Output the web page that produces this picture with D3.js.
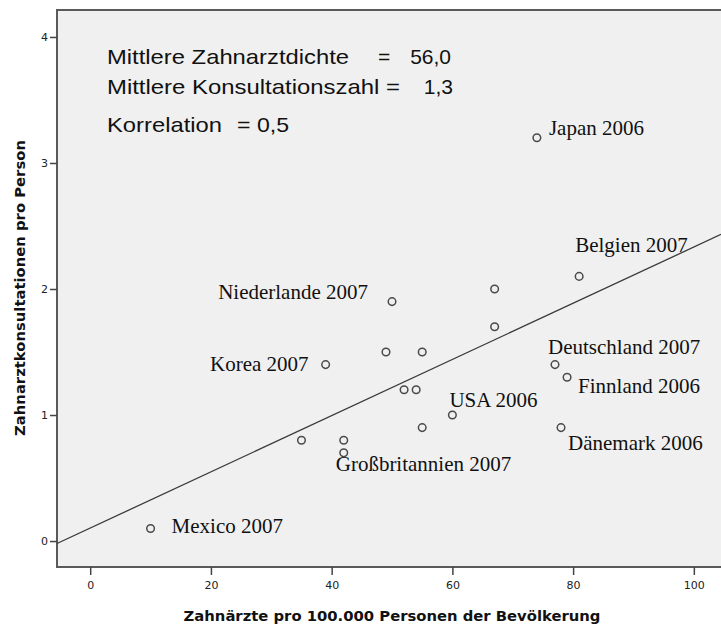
<!DOCTYPE html>
<html>
<head>
<meta charset="utf-8">
<script src="https://cdn.jsdelivr.net/npm/d3@7"></script>
<style>
  body { margin: 0; background: #fff; }
  svg { display: block; overflow: hidden; }
  .tick text { font-family: "DejaVu Sans", sans-serif; font-size: 11px; fill: #222; }
  .tick line { stroke: #444; stroke-width: 1.5; }
  .axis-title { font-family: "DejaVu Sans", sans-serif; font-weight: bold; font-size: 14.8px; fill: #111; }
  .note { font-family: "Liberation Sans", Arial, sans-serif; font-size: 21px; fill: #111; }
  .country { font-family: "Liberation Serif", "Times New Roman", serif; font-size: 21px; fill: #111; }
</style>
</head>
<body>
<svg id="chart" width="721" height="628"></svg>
<script>
// Zahnärzte pro 100.000 vs. Zahnarztkonsultationen pro Person
const dentists      = [74, 81, 67, 50, 67, 49, 55, 52, 54, 60, 55, 77, 79, 78, 39, 35, 42, 42, 10];
const consultations = [3.2, 2.1, 2.0, 1.9, 1.7, 1.5, 1.5, 1.2, 1.2, 1.0, 0.9, 1.4, 1.3, 0.9, 1.4, 0.8, 0.8, 0.7, 0.1];
const countries     = ["Japan 2006", "Belgien 2007", "", "Niederlande 2007", "", "", "", "", "",
                       "USA 2006", "", "Deutschland 2007", "Finnland 2006", "Dänemark 2006",
                       "Korea 2007", "", "", "Großbritannien 2007", "Mexico 2007"];
const xTicks = [0, 20, 40, 60, 80, 100];
const yTicks = [0, 1, 2, 3, 4];
// fitted line: intercept, slope
const fitLine = [0.103, 0.0223];

// label placement relative to its point (px)
const labelOffsets = {
  "Japan 2006":          [12, -3, "start"],
  "Belgien 2007":        [-4, -24, "start"],
  "Niederlande 2007":    [-24, -3, "end"],
  "USA 2006":            [-3, -8, "start"],
  "Deutschland 2007":    [-7, -11, "start"],
  "Finnland 2006":       [11, 16, "start"],
  "Dänemark 2006":       [7, 22, "start"],
  "Korea 2007":          [-17, 6, "end"],
  "Großbritannien 2007": [-8, 18, "start"],
  "Mexico 2007":         [21, 5, "start"]
};

const svg = d3.select('#chart');
const plotLeft = 57, plotRight = 721, plotTop = 10, plotBottom = 567;

const x = d3.scaleLinear().domain([-5.5, 104.5]).range([plotLeft, plotRight]);
const y = d3.scaleLinear().domain([-0.206, 4.214]).range([plotBottom, plotTop]);

// plot background + frame (right edge is cut off by the image)
svg.append('rect')
  .attr('x', plotLeft).attr('y', plotTop)
  .attr('width', plotRight - plotLeft + 20).attr('height', plotBottom - plotTop)
  .attr('fill', '#f0f0f0')
  .attr('stroke', '#5a5a5a')
  .attr('stroke-width', 2);

// axes
const xAxis = svg.append('g')
  .attr('transform', `translate(0, ${plotBottom})`)
  .call(d3.axisBottom(x).tickValues(xTicks).tickSize(8).tickPadding(6));
xAxis.select('.domain').remove();

const yAxis = svg.append('g')
  .attr('transform', `translate(${plotLeft}, 0)`)
  .call(d3.axisLeft(y).tickValues(yTicks).tickFormat(d3.format('d')).tickSize(7).tickPadding(2));
yAxis.select('.domain').remove();

// regression line
const xd = x.domain();
svg.append('line')
  .attr('x1', x(xd[0])).attr('y1', y(fitLine[0] + fitLine[1] * xd[0]))
  .attr('x2', x(xd[1])).attr('y2', y(fitLine[0] + fitLine[1] * xd[1]))
  .attr('stroke', '#3a3a3a')
  .attr('stroke-width', 1.3);

// points
const pts = dentists.map((d, i) => ({ x: d, y: consultations[i], name: countries[i] }));

svg.append('g').selectAll('circle')
  .data(pts)
  .enter()
  .append('circle')
  .attr('cx', d => x(d.x))
  .attr('cy', d => y(d.y))
  .attr('r', 3.8)
  .attr('fill', 'none')
  .attr('stroke', '#4a4a4a')
  .attr('stroke-width', 1.5);

svg.append('g').selectAll('text')
  .data(pts.filter(d => d.name !== ''))
  .enter()
  .append('text')
  .attr('class', 'country')
  .attr('x', d => x(d.x) + labelOffsets[d.name][0])
  .attr('y', d => y(d.y) + labelOffsets[d.name][1])
  .attr('text-anchor', d => labelOffsets[d.name][2])
  .text(d => d.name);

// summary text
const notes = [
  { t: 'Mittlere Zahnarztdichte', x: 107, y: 64, len: 242 },
  { t: '=', x: 378, y: 64 },
  { t: '56,0', x: 451, y: 64, anchor: 'end' },
  { t: 'Mittlere Konsultationszahl =', x: 107, y: 94, len: 293 },
  { t: '1,3', x: 453, y: 94, anchor: 'end' },
  { t: 'Korrelation', x: 107, y: 132, len: 115 },
  { t: '= 0,5', x: 237, y: 132, len: 52 }
];
svg.append('g').selectAll('text')
  .data(notes)
  .enter()
  .append('text')
  .attr('class', 'note')
  .attr('x', d => d.x)
  .attr('y', d => d.y)
  .attr('text-anchor', d => d.anchor || 'start')
  .each(function(d) {
    if (d.len) d3.select(this).attr('textLength', d.len).attr('lengthAdjust', 'spacingAndGlyphs');
  })
  .text(d => d.t);

// axis titles
svg.append('text')
  .attr('class', 'axis-title')
  .attr('x', 392)
  .attr('y', 621)
  .attr('text-anchor', 'middle')
  .text('Zahnärzte pro 100.000 Personen der Bevölkerung');

svg.append('text')
  .attr('class', 'axis-title')
  .attr('transform', 'translate(25, 288) rotate(-90)')
  .attr('text-anchor', 'middle')
  .text('Zahnarztkonsultationen pro Person');
</script>
</body>
</html>
